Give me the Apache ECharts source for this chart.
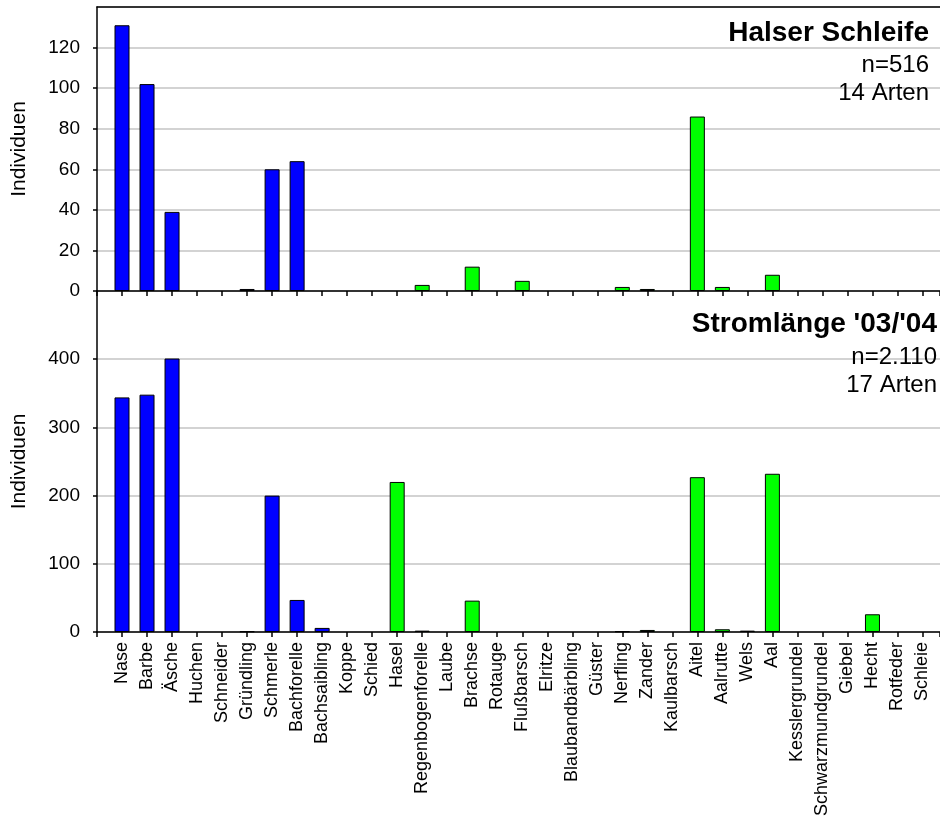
<!DOCTYPE html>
<html>
<head>
<meta charset="utf-8">
<script src="https://cdn.jsdelivr.net/npm/echarts@6/dist/echarts.min.js"></script>
<style>
  html, body { margin: 0; padding: 0; background: #fff; }
  #chart { width: 940px; height: 818px; }
</style>
</head>
<body>
<div id="chart"></div>
<script>
// Fischarten (Reihenfolge der Rubriken)
const categories = [
  'Nase', 'Barbe', 'Äsche', 'Huchen', 'Schneider', 'Gründling', 'Schmerle',
  'Bachforelle', 'Bachsaibling', 'Koppe', 'Schied', 'Hasel', 'Regenbogenforelle',
  'Laube', 'Brachse', 'Rotauge', 'Flußbarsch', 'Elritze', 'Blaubandbärbling',
  'Güster', 'Nerfling', 'Zander', 'Kaulbarsch', 'Aitel', 'Aalrutte', 'Wels', 'Aal',
  'Kesslergrundel', 'Schwarzmundgrundel', 'Giebel', 'Hecht', 'Rotfeder', 'Schleie'
];

// Arten der ersten Gruppe (blau), alle übrigen grün
const blueSpecies = [
  'Nase', 'Barbe', 'Äsche', 'Huchen', 'Schneider', 'Gründling', 'Schmerle',
  'Bachforelle', 'Bachsaibling', 'Koppe', 'Schied'
];

// Individuen je Art – Halser Schleife (n=516, 14 Arten)
const halserValues = [
  131, 102, 39, 0, 0, 1, 60, 64, 0, 0, 0, 0, 3,
  0, 12, 0, 5, 0, 0, 0, 2, 1, 0, 86, 2, 0, 8,
  0, 0, 0, 0, 0, 0
];

// Individuen je Art – Stromlänge '03/'04 (n=2.110, 17 Arten)
const stromValues = [
  344, 348, 401, 0, 0, 1, 200, 47, 6, 0, 0, 220, 2,
  0, 46, 0, 0, 0, 0, 0, 1, 3, 0, 227, 4, 2, 232,
  0, 0, 0, 26, 0, 0
];

// Achsenbeschriftung
const halserTicks = [0, 20, 40, 60, 80, 100, 120];
const stromTicks = [0, 100, 200, 300, 400];

const panelTexts = [
  { title: 'Halser Schleife', n: 'n=516', arten: '14 Arten' },
  { title: "Stromlänge '03/'04", n: 'n=2.110', arten: '17 Arten' }
];

const FONT = "'Liberation Sans', Arial, sans-serif";
const BLUE = '#0000ff';
const GREEN = '#00ff00';

function barData(values) {
  return values
    .map((v, i) => ({
      value: [i, v],
      itemStyle: { color: blueSpecies.includes(categories[i]) ? BLUE : GREEN }
    }))
    .filter(d => d.value[1] > 0);
}

function yAxisFor(gridIndex, ticks, max) {
  const step = ticks[1] - ticks[0];
  return {
    type: 'value', gridIndex: gridIndex, min: 0, max: max, interval: step,
    name: 'Individuen', nameLocation: 'middle', nameGap: 67,
    nameTextStyle: { fontFamily: FONT, fontSize: 21, color: '#000' },
    axisLine: { show: true, onZero: false, lineStyle: { color: '#000', width: 1.5 } },
    axisTick: { show: true, inside: false, length: 4, lineStyle: { color: '#000', width: 1.5 } },
    axisLabel: {
      fontFamily: FONT, fontSize: 19, color: '#000', margin: 17,
      showMaxLabel: false,
      formatter: v => (ticks.indexOf(v) >= 0 ? String(v) : '')
    },
    splitLine: { show: true, lineStyle: { color: '#c4c4c4', width: 1.5 } }
  };
}

function xAxisFor(gridIndex, withLabels) {
  return {
    type: 'value', gridIndex: gridIndex, min: -1, max: 32.7, interval: 1,
    axisLine: { show: true, onZero: false, lineStyle: { color: '#000', width: 1.5 } },
    axisTick: { show: true, inside: false, length: 5, lineStyle: { color: '#000', width: 1.5 } },
    axisLabel: {
      show: withLabels, rotate: 90, margin: 10, interval: 0,
      fontFamily: FONT, fontSize: 18, color: '#000',
      showMinLabel: true, showMaxLabel: true,
      formatter: v => (Number.isInteger(v) && v >= 0 && v < categories.length ? categories[v] : '')
    },
    splitLine: { show: false }
  };
}

const chart = echarts.init(document.getElementById('chart'), null, { renderer: 'canvas' });

function annotation(t, rightX, baseTitle, baseN, baseArten) {
  const mid = (base, fs) => base - 0.35 * fs;
  return [
    { type: 'text', x: rightX, y: mid(baseTitle, 28), z: 100,
      style: { text: t.title, align: 'right', verticalAlign: 'middle',
               font: 'bold 28px ' + FONT, fill: '#000' } },
    { type: 'text', x: rightX, y: mid(baseN, 24), z: 100,
      style: { text: t.n, align: 'right', verticalAlign: 'middle',
               font: '24px ' + FONT, fill: '#000' } },
    { type: 'text', x: rightX, y: mid(baseArten, 24), z: 100,
      style: { text: t.arten, align: 'right', verticalAlign: 'middle',
               font: '24px ' + FONT, fill: '#000' } }
  ];
}

chart.setOption({
  backgroundColor: '#fff',
  animation: false,
  grid: [
    { left: 97, right: 0, top: 7, height: 284, containLabel: false, outerBoundsMode: 'none' },
    { left: 97, right: 0, top: 291, height: 341, containLabel: false, outerBoundsMode: 'none' }
  ],
  xAxis: [
    xAxisFor(0, false),
    xAxisFor(1, true),
    // oberer Rahmen des ersten Diagramms
    {
      type: 'value', gridIndex: 0, position: 'top', min: -1, max: 32.7, interval: 1,
      axisLine: { show: true, onZero: false, lineStyle: { color: '#000', width: 1.5 } },
      axisTick: { show: false }, axisLabel: { show: false }, splitLine: { show: false }
    }
  ],
  yAxis: [
    yAxisFor(0, halserTicks, 140),
    yAxisFor(1, stromTicks, 500)
  ],
  series: [
    {
      type: 'bar', xAxisIndex: 0, yAxisIndex: 0, barWidth: 15,
      itemStyle: { borderColor: '#000', borderWidth: 1 },
      data: barData(halserValues)
    },
    {
      type: 'bar', xAxisIndex: 1, yAxisIndex: 1, barWidth: 15,
      itemStyle: { borderColor: '#000', borderWidth: 1 },
      data: barData(stromValues)
    }
  ],
  graphic: [
    ...annotation(panelTexts[0], 929, 42.7, 74, 101.7),
    ...annotation(panelTexts[1], 937, 334, 366, 394)
  ]
});
</script>
</body>
</html>
